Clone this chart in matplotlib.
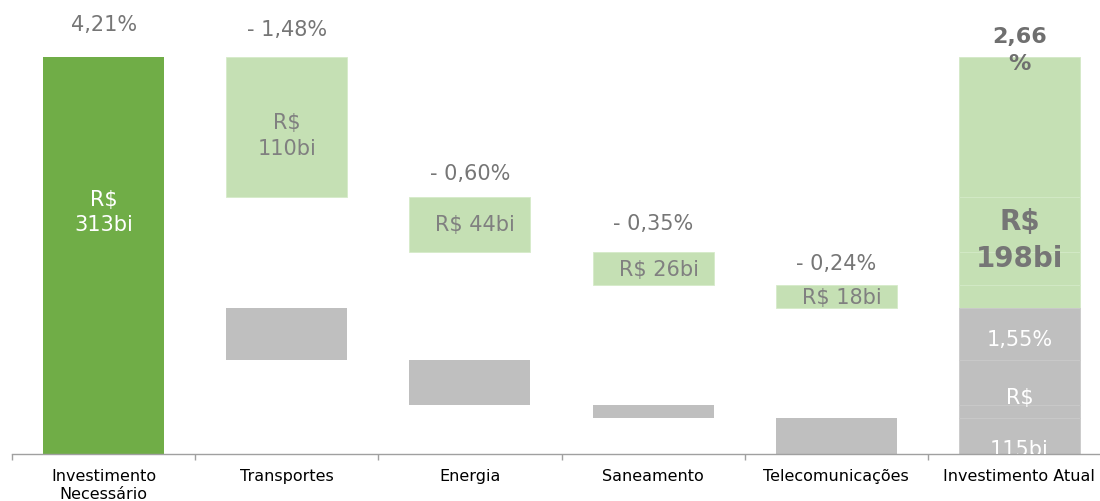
import matplotlib
matplotlib.use("Agg")
import matplotlib.pyplot as plt
import numpy as np

CATEGORIES = ["Investimento\nNecessário", "Transportes", "Energia",
              "Saneamento", "Telecomunicações", "Investimento Atual"]
TOTAL_NEEDED = 313
GAP = [110, 44, 26, 18]          # investimento faltante por setor (R$ bi)
ACTUAL = [41, 35, 11, 28]        # investimento atual por setor (R$ bi)
PCT_LABELS = ["4,21%", "- 1,48%", "- 0,60%", "- 0,35%", "- 0,24%"]
GAP_LABELS = ["R$\n110bi", "R$ 44bi", "R$ 26bi", "R$ 18bi"]
TOTAL_GAP_PCT = "2,66\n%"
TOTAL_GAP_LABEL = "R$\n198bi"
ACTUAL_LABELS = ["1,55%", "R$", "115bi"]

DARK_GREEN = "#70ad47"
LIGHT_GREEN = "#c5e0b4"
GREY = "#bfbfbf"
TXT = "#767676"

plt.rcParams["font.family"] = ["DejaVu Sans"]

fig = plt.figure(figsize=(11, 5.02), dpi=100)
ax = fig.add_axes([12 / 1100, 47 / 502, 1099 / 1100, 455 / 502])

n = len(CATEGORIES)
x = np.arange(n)
w = 0.66

gap = np.array(GAP)
actual = np.array(ACTUAL)
total_actual = actual.sum()
green_bottom = TOTAL_NEEDED - np.cumsum(gap)
grey_bottom = total_actual - np.cumsum(actual)

# barra inicial
ax.bar(x[0], TOTAL_NEEDED, w, color=DARK_GREEN, linewidth=0)

# setores: faltante (verde) e atual (cinza)
ax.bar(x[1:5], gap, w, bottom=green_bottom, color=LIGHT_GREEN,
       edgecolor="#d6ebc9", linewidth=0.6)
ax.bar(x[1:5], actual, w, bottom=grey_bottom, color=GREY, linewidth=0)

# barra final empilhada com os mesmos segmentos
ax.bar([x[5]] * 4, gap, w, bottom=green_bottom, color=LIGHT_GREEN,
       edgecolor="#d3e9c6", linewidth=0.6)
ax.bar([x[5]] * 4, actual, w, bottom=grey_bottom, color=GREY,
       edgecolor="#c9c9c9", linewidth=0.6)

# rótulos percentuais acima das barras
tops = [TOTAL_NEEDED] + list(green_bottom + gap)
offsets = [24, 20, 17, 21, 16]
for i, (lab, top, off) in enumerate(zip(PCT_LABELS, tops, offsets)):
    ax.annotate(lab, (x[i], top), xytext=(0, off), textcoords="offset points",
                ha="center", va="center", fontsize=15, color=TXT)

ax.text(x[0], 191, "R$\n313bi", ha="center", va="center",
        fontsize=15, color="white", linespacing=1.3)

for i, lab in enumerate(GAP_LABELS):
    yc = green_bottom[i] + gap[i] / 2
    if i == 0:
        yc -= 6.5
    ax.text(x[i + 1] + (0.03 if i > 0 else 0), yc, lab, ha="center",
            va="center", fontsize=15, color="#808080", linespacing=1.38)

ax.text(x[5], 319, TOTAL_GAP_PCT, ha="center", va="center",
        fontsize=16, color="#6f6f6f", fontweight="bold", linespacing=1.45)
ax.text(x[5], 169, TOTAL_GAP_LABEL, ha="center", va="center",
        fontsize=20, color="#767676", fontweight="bold", linespacing=1.4)

for lab, yv in zip(ACTUAL_LABELS, [91, 45, 4]):
    ax.text(x[5], yv, lab, ha="center", va="center", fontsize=15,
            color="white", clip_on=True)

ax.set_xlim(-0.5, n - 0.5)
ax.set_ylim(0, 455 / 1.268)

for s in ["top", "right", "left"]:
    ax.spines[s].set_visible(False)
ax.spines["bottom"].set_color("#a0a0a0")
ax.spines["bottom"].set_linewidth(1.0)
ax.set_yticks([])

ax.set_xticks(np.arange(n + 1) - 0.5)
ax.set_xticklabels([])
ax.tick_params(axis="x", which="major", length=4, color="#a0a0a0", width=1)
ax.set_xticks(x, minor=True)
ax.set_xticklabels(CATEGORIES, minor=True, fontsize=11.5, color="black",
                   linespacing=1.25)
ax.tick_params(axis="x", which="minor", length=0, pad=10)

fig.savefig("out.png", dpi=100)
